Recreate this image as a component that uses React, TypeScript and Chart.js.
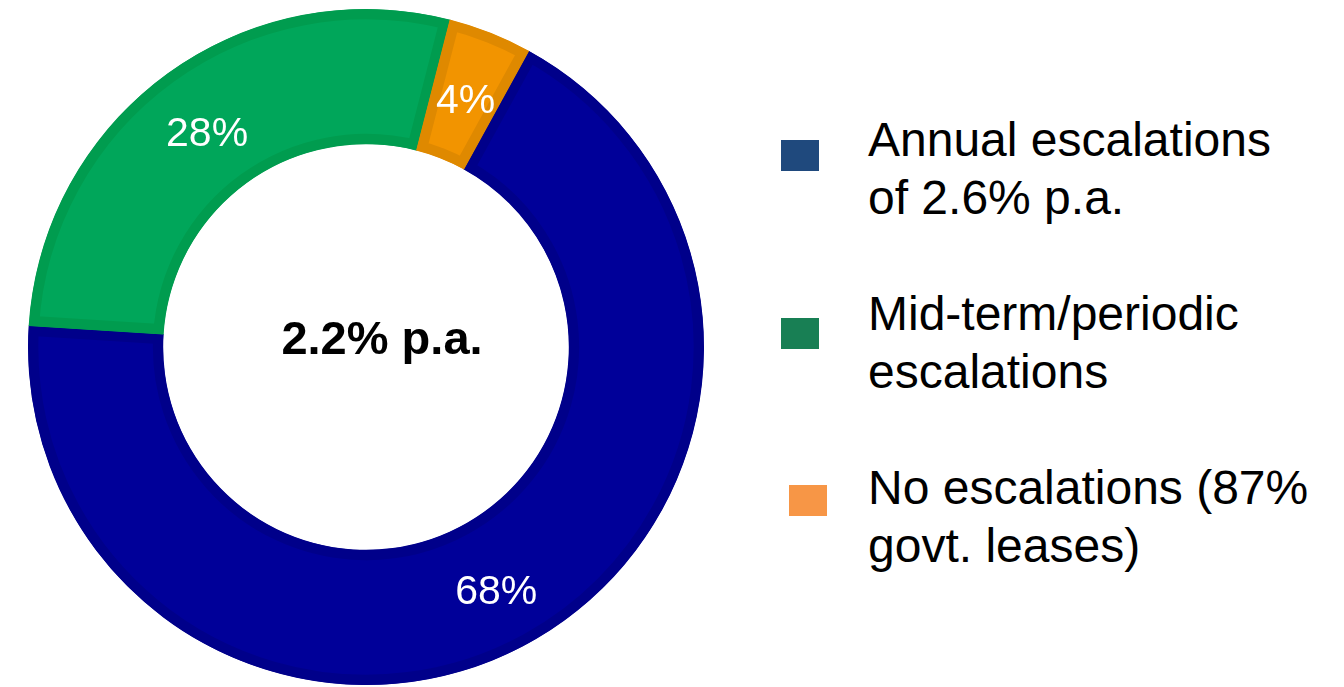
import React, { useEffect, useRef } from "react";
import { Chart, registerables } from "chart.js";

Chart.register(...registerables);

const categories = [
  "Annual escalations of 2.6% p.a.",
  "Mid-term/periodic escalations",
  "No escalations (87% govt. leases)",
];
const legendLines = [
  ["Annual escalations", "of 2.6% p.a."],
  ["Mid-term/periodic", "escalations"],
  ["No escalations (87%", "govt. leases)"],
];
const shares = [68, 28, 4];
const sliceLabels = ["68%", "28%", "4%"];
const centerLabel = "2.2% p.a.";
const fillColors = ["#000099", "#00a65a", "#f29400"];
const borderColors = ["#00008a", "#009c4f", "#df8900"];
const legendColors = ["#1f497d", "#187f54", "#f79646"];

const FONT = '"Liberation Sans", Arial, Helvetica, sans-serif';

export default function App() {
  const ref = useRef<HTMLCanvasElement | null>(null);

  useEffect(() => {
    document.body.style.margin = "0";
    const labelPlugin = {
      id: "sliceLabels",
      afterDatasetsDraw(chart: any) {
        const ctx = chart.ctx;
        const meta = chart.getDatasetMeta(0);
        ctx.save();
        ctx.fillStyle = "#ffffff";
        ctx.font = `41px ${FONT}`;
        ctx.textAlign = "center";
        ctx.textBaseline = "middle";
        meta.data.forEach((arc: any, i: number) => {
          const p = arc.tooltipPosition();
          ctx.fillText(sliceLabels[i], p.x, p.y + (i === 0 ? 9 : 6));
        });
        const a0 = meta.data[0];
        ctx.fillStyle = "#000000";
        ctx.font = `bold 47px ${FONT}`;
        ctx.fillText(centerLabel, a0.x + 16, a0.y - 6);
        ctx.restore();
      },
    };
    const chart = new Chart(ref.current as HTMLCanvasElement, {
      type: "doughnut",
      data: {
        labels: categories,
        datasets: [
          {
            data: shares,
            backgroundColor: fillColors,
            borderColor: borderColors,
            borderWidth: 10,
            borderAlign: "inner",
          } as any,
        ],
      },
      options: {
        animation: false,
        responsive: false,
        maintainAspectRatio: false,
        cutout: "60%",
        rotation: 28.8,
        layout: { padding: 0 },
        plugins: {
          legend: { display: false },
          tooltip: { enabled: false },
        },
      },
      plugins: [labelPlugin],
    });
    return () => chart.destroy();
  }, []);

  const tops = [111, 285, 459];
  const squareTops = [140, 318, 485];
  const squareLefts = [781, 781, 789];

  return (
    <div
      style={{
        position: "fixed",
        left: 0,
        top: 0,
        width: 1344,
        height: 687,
        background: "#ffffff",
        overflow: "hidden",
        fontFamily: FONT,
      }}
    >
      <canvas
        ref={ref}
        width={676}
        height={676}
        style={{ position: "absolute", left: 28, top: 9, width: 676, height: 676 }}
      />
      {legendLines.map((lines, i) => (
        <React.Fragment key={i}>
          <div
            style={{
              position: "absolute",
              left: squareLefts[i],
              top: squareTops[i],
              width: 38,
              height: 31,
              background: legendColors[i],
            }}
          />
          <div
            style={{
              position: "absolute",
              left: 868,
              top: tops[i],
              fontSize: 48,
              lineHeight: "58px",
              color: "#000000",
              whiteSpace: "nowrap",
            }}
          >
            {lines.map((l, j) => (
              <div key={j}>{l}</div>
            ))}
          </div>
        </React.Fragment>
      ))}
    </div>
  );
}
